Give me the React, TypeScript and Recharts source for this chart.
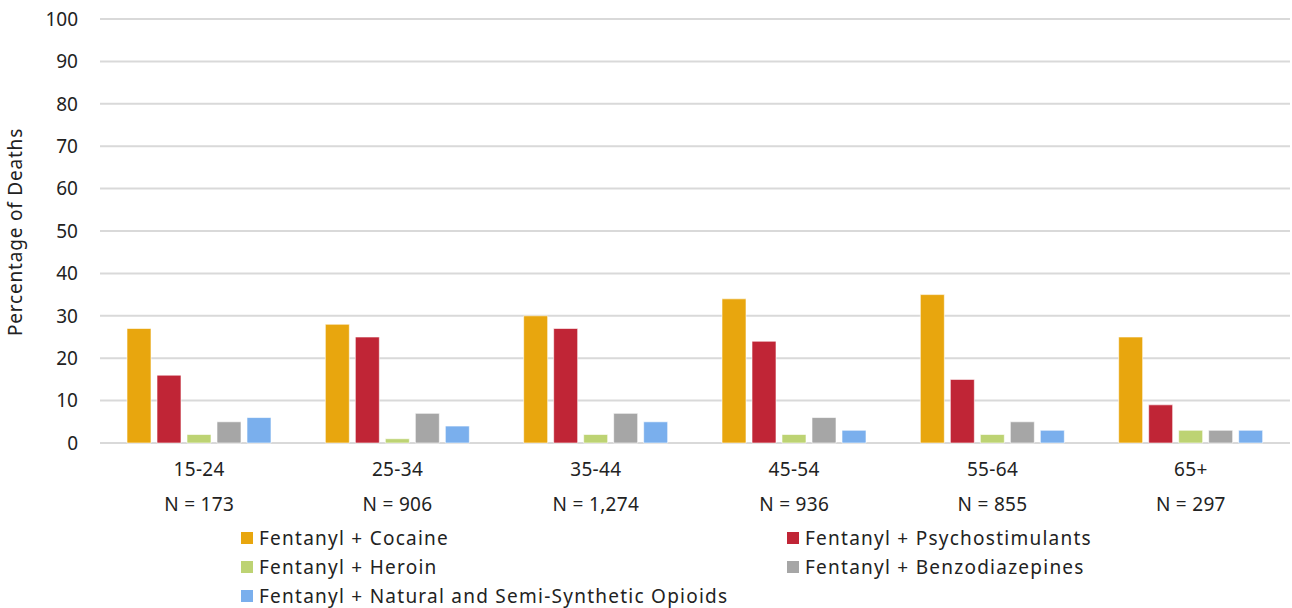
import { Bar, BarChart, CartesianGrid, Legend, XAxis, YAxis } from 'recharts';

const ageGroups = ['15-24', '25-34', '35-44', '45-54', '55-64', '65+'];
const groupSizes = ['N = 173', 'N = 906', 'N = 1,274', 'N = 936', 'N = 855', 'N = 297'];

const cocaine = [27, 28, 30, 34, 35, 25];
const psychostimulants = [16, 25, 27, 24, 15, 9];
const heroin = [2, 1, 2, 2, 2, 3];
const benzodiazepines = [5, 7, 7, 6, 5, 3];
const naturalOpioids = [6, 4, 5, 3, 3, 3];

const yTicks = [0, 10, 20, 30, 40, 50, 60, 70, 80, 90, 100];

const series = [
  { key: 'cocaine', name: 'Fentanyl + Cocaine', color: '#E8A60E' },
  { key: 'psycho', name: 'Fentanyl + Psychostimulants', color: '#C02536' },
  { key: 'heroin', name: 'Fentanyl + Heroin', color: '#BDD373' },
  { key: 'benzo', name: 'Fentanyl + Benzodiazepines', color: '#A6A6A6' },
  { key: 'natural', name: 'Fentanyl + Natural and Semi-Synthetic Opioids', color: '#7AAFED' },
];

const data = ageGroups.map((age, i) => ({
  age,
  n: groupSizes[i],
  cocaine: cocaine[i],
  psycho: psychostimulants[i],
  heroin: heroin[i],
  benzo: benzodiazepines[i],
  natural: naturalOpioids[i],
}));

const FONT = '"Noto Sans", sans-serif';

function AgeTick({ x, y, payload, index }: any) {
  return (
    <g transform={`translate(${x},${y})`}>
      <text textAnchor="middle" fontFamily={FONT} fontSize={19} letterSpacing={0.3} fill="#222">
        <tspan x={0} dy={25}>{payload.value}</tspan>
        <tspan x={0} dy={35}>{groupSizes[index]}</tspan>
      </text>
    </g>
  );
}

function LegendBox() {
  const item = (s: (typeof series)[number]) => (
    <div key={s.key} style={{ display: 'flex', alignItems: 'center', height: 29, whiteSpace: 'nowrap' }}>
      <span style={{ width: 12, height: 12, background: s.color, marginRight: 6, flexShrink: 0 }} />
      <span>{s.name}</span>
    </div>
  );
  return (
    <div style={{ fontFamily: FONT, fontSize: 19, letterSpacing: 1.25, color: '#222', position: 'relative', height: 85 }}>
      <div style={{ position: 'absolute', left: 241, top: 0 }}>
        {item(series[0])}
        {item(series[2])}
        {item(series[4])}
      </div>
      <div style={{ position: 'absolute', left: 787, top: 0 }}>
        {item(series[1])}
        {item(series[3])}
      </div>
    </div>
  );
}

export default function App() {
  return (
    <div style={{ position: 'absolute', left: 0, top: 0, background: '#fff' }}>
      <BarChart
        width={1292}
        height={608}
        data={data}
        margin={{ top: 19, right: 2, left: 0, bottom: 0 }}
        barSize={24}
        barGap={6}
      >
        <CartesianGrid vertical={false} stroke="#D9D9D9" strokeWidth={2} />
        <XAxis
          dataKey="age"
          axisLine={false}
          tickLine={false}
          height={80}
          interval={0}
          tick={<AgeTick />}
        />
        <YAxis
          domain={[0, 100]}
          ticks={yTicks}
          width={100}
          axisLine={false}
          tickLine={false}
          tickSize={0}
          tickMargin={22}
          tick={{ fontFamily: FONT, fontSize: 19, fill: '#222' }}
          label={{
            value: 'Percentage of Deaths',
            angle: -90,
            position: 'insideLeft',
            dx: 10,
            dy: 105,
            style: { fontFamily: FONT, fontSize: 19, letterSpacing: 0.8, fill: '#222' },
          }}
        />
        <Legend verticalAlign="bottom" height={85} content={<LegendBox />} />
        {series.map((s) => (
          <Bar
            key={s.key}
            dataKey={s.key}
            name={s.name}
            fill={s.color}
            stroke="#fff"
            strokeWidth={0.6}
            isAnimationActive={false}
          />
        ))}
      </BarChart>
    </div>
  );
}
